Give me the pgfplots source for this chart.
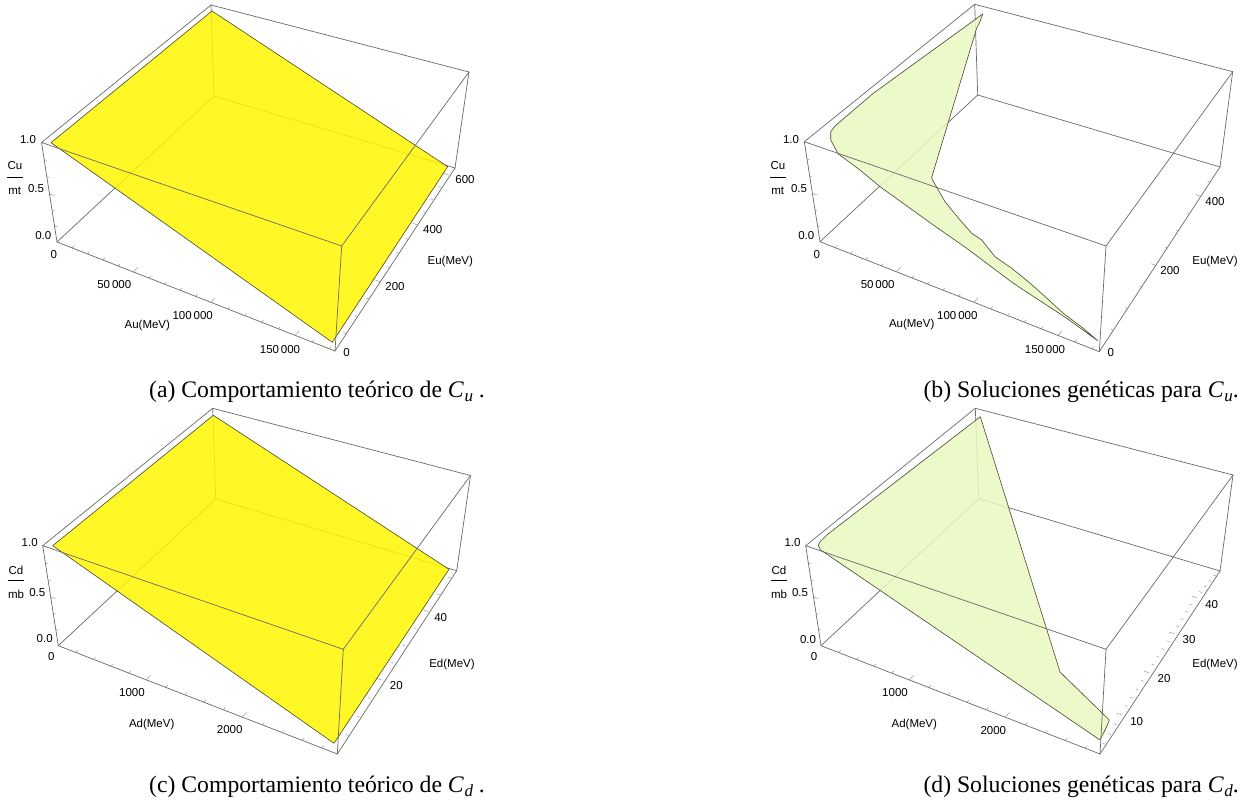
\documentclass[border=0pt]{standalone}
\usepackage{fontspec}
\setmainfont{Liberation Serif}
\newfontfamily\hv{Liberation Sans}
\usepackage{pgfplots}
\pgfplotsset{compat=1.18}
\definecolor{ysurf}{RGB}{255,247,0}
\definecolor{gsurf}{RGB}{233,248,190}
\definecolor{boxgray}{RGB}{105,105,105}
\definecolor{tickgray}{RGB}{135,135,135}
\definecolor{surfedge}{RGB}{70,70,50}
\pgfplotsset{
  panel/.style={hide axis, scale only axis, clip=false, y dir=reverse},
  boxline/.style={boxgray, line width=0.7pt, no markers, line cap=round, forget plot},
  surfY/.style={fill=ysurf, fill opacity=0.85, draw=surfedge, draw opacity=1, line width=0.6pt, no markers, forget plot, line join=round},
  surfG/.style={fill=gsurf, fill opacity=0.85, draw=surfedge, draw opacity=1, line width=0.6pt, no markers, forget plot, line join=round},
}
\newcommand{\edge}[2]{\addplot[boxline] coordinates {(#1) (#2)};}
% tick segment: x0 y0 x1 y1 intervals dx dy scale-of-last
\newcommand{\ticks}[8]{%
  \foreach \i in {1,...,#5}{%
    \pgfmathsetmacro\tx{#1+(#3-#1)*\i/#5}%
    \pgfmathsetmacro\ty{#2+(#4-#2)*\i/#5}%
    \pgfmathsetmacro\ts{ifthenelse(\i==#5,#8,0.5)}%
    \pgfmathsetmacro\ex{\tx+(#6)*\ts}%
    \pgfmathsetmacro\ey{\ty+(#7)*\ts}%
    \edef\temp{\noexpand\draw[tickgray,line width=0.4pt] (axis cs:\tx,\ty) -- (axis cs:\ex,\ey);}%
    \temp
  }%
}
\newcommand{\tl}[3]{\node[font=\hv\fontsize{11.5}{13}\selectfont,inner sep=0pt,anchor=center] at (axis cs:#1,#2) {#3};}
\newcommand{\Cs}[1]{\textit{C}\kern0.5pt\raisebox{-0.35ex}{\fontsize{17}{18}\selectfont\textit{#1}}}
\newcommand{\capt}[3]{\node[font=\fontsize{23.7}{26}\selectfont,inner sep=0pt,anchor=base west] at (axis cs:#1,#2) {#3};}
\begin{document}
\begin{tikzpicture}[x=1pt,y=1pt]
\useasboundingbox (0,0) rectangle (1245,802);
% ---------- (a)
\begin{axis}[panel, at={(0pt,401pt)}, anchor=south west, width=622pt, height=401pt, xmin=0, xmax=622, ymin=0, ymax=401]
\edge{211,5}{214,96}\edge{214,96}{57,242}\edge{214,96}{455,168}
\addplot[surfY] coordinates {(51,142.7) (212,11) (447.7,166.7) (332.3,342.3)} -- cycle;
\edge{41.5,142.5}{211,5}\edge{211,5}{469,72}\edge{469,72}{455,168}\edge{469,72}{341.7,246}
\edge{341.7,246}{41.5,142.5}\edge{341.7,246}{335,351}\edge{57,242}{335,351}\edge{335,351}{455,168}\edge{57,242}{41.5,142.5}
\ticks{57}{242}{133.5}{272}{5}{4}{-4.5}{1}
\ticks{133.5}{272}{211}{302.5}{5}{4}{-4.5}{1}
\ticks{211}{302.5}{295}{335.5}{5}{4}{-4.5}{1}
\ticks{295}{335.5}{329}{349}{2}{4}{-4.5}{0.5}
\ticks{335}{351}{380}{281.7}{4}{-5.5}{-2}{1}
\ticks{380}{281.7}{417.7}{225}{4}{-5.5}{-2}{1}
\ticks{417.7}{225}{449}{175}{4}{-5.5}{-2}{1}
\ticks{57}{242}{49.4}{194}{3}{5}{1.5}{1}
\ticks{49.4}{194}{41.5}{142.5}{3}{5}{1.5}{1}
\tl{28}{140}{1.0}\tl{36}{189}{0.5}\tl{43.3}{235.3}{0.0}
\tl{15}{166}{Cu}\tl{14.7}{191}{mt}
\addplot[black,line width=0.6pt,no markers,forget plot] coordinates {(7.3,177) (23.3,177)};
\tl{53.7}{255}{0}\tl{114.3}{284.7}{50\,000}\tl{192.7}{315.3}{100\,000}\tl{280}{349.7}{150\,000}
\tl{147.3}{325.3}{Au(MeV)}
\tl{346.5}{352.3}{0}\tl{395}{286.7}{200}\tl{432.7}{229.3}{400}\tl{465}{179.3}{600}
\tl{450.3}{261.3}{Eu(MeV)}
\capt{149}{397.3}{(a) Comportamiento teórico de \Cs{u} .}
\end{axis}
% ---------- (b)
\begin{axis}[panel, at={(622pt,401pt)}, anchor=south west, width=623pt, height=401pt, xmin=622, xmax=1245, ymin=0, ymax=401]
\edge{974.7,4.3}{977.7,95}\edge{977.7,95}{820,241.7}\edge{977.7,95}{1220,167}
\addplot[surfG] coordinates {(982.7,14) (980,21.7) (976.7,28) (931.7,177.3) (932,179) (938.3,190) (945,201.7) (960,220) (971.7,233.3) (981.7,240) (995,256.7) (1011.7,268.3) (1028.3,281.7) (1043.3,295) (1063.3,313.3) (1083.3,328.3) (1097.7,340.7) (1066.7,318.3) (1013.3,283.3) (966.7,248.3) (933.3,225) (880,186.7) (860,170) (838.3,154) (830.7,140) (830.7,131.7) (835,126) (873.3,93.3)} -- cycle;
\edge{804.3,141.7}{974.7,4.3}\edge{974.7,4.3}{1232.7,71.7}\edge{1232.7,71.7}{1220,167}\edge{1232.7,71.7}{1106,246}
\edge{1106,246}{804.3,141.7}\edge{1106,246}{1099.3,351.7}\edge{820,241.7}{1099.3,351.7}\edge{1099.3,351.7}{1220,167}\edge{820,241.7}{804.3,141.7}
\ticks{820}{241.7}{896.5}{271.7}{5}{4}{-4.5}{1}
\ticks{896.5}{271.7}{974}{302.2}{5}{4}{-4.5}{1}
\ticks{974}{302.2}{1058}{335.2}{5}{4}{-4.5}{1}
\ticks{1058}{335.2}{1092}{348.7}{2}{4}{-4.5}{0.5}
\ticks{1099.3}{351.7}{1156.7}{265.7}{4}{-5.5}{-2}{1}
\ticks{1156.7}{265.7}{1201}{196.5}{4}{-5.5}{-2}{1}
\ticks{1201}{196.5}{1210}{182}{1}{-5.5}{-2}{0.5}
\ticks{820}{241.7}{812.2}{193.5}{3}{5}{1.5}{1}
\ticks{812.2}{193.5}{804.3}{141.7}{3}{5}{1.5}{1}
\tl{791}{140}{1.0}\tl{799}{189}{0.5}\tl{806.3}{235.5}{0.0}
\tl{778}{166}{Cu}\tl{777.7}{191}{mt}
\addplot[black,line width=0.6pt,no markers,forget plot] coordinates {(770.3,177) (786.3,177)};
\tl{816.7}{254.3}{0}\tl{877.7}{284.3}{50\,000}\tl{957.3}{315.7}{100\,000}\tl{1045}{349.5}{150\,000}
\tl{911.7}{324.3}{Au(MeV)}
\tl{1110.7}{352.7}{0}\tl{1170}{270.7}{200}\tl{1215}{201.7}{400}
\tl{1215}{261.3}{Eu(MeV)}
\capt{923.3}{397.3}{(b) Soluciones genéticas para \Cs{u}.}
\end{axis}
% ---------- (c)
\begin{axis}[panel, at={(0pt,0pt)}, anchor=south west, width=622pt, height=401pt, xmin=0, xmax=622, ymin=401, ymax=802]
\edge{212.7,408.3}{215.7,499}\edge{215.7,499}{58.3,645.7}\edge{215.7,499}{456.7,570.7}
\addplot[surfY] coordinates {(52.7,545.7) (213.3,415.3) (449,569.3) (334,743.3)} -- cycle;
\edge{42.7,545.7}{212.7,408.3}\edge{212.7,408.3}{470.5,475.5}\edge{470.5,475.5}{456.7,570.7}\edge{470.5,475.5}{343.3,649.3}
\edge{343.3,649.3}{42.7,545.7}\edge{343.3,649.3}{337.3,754}\edge{58.3,645.7}{337.3,754}\edge{337.3,754}{456.7,570.7}\edge{58.3,645.7}{42.7,545.7}
\ticks{58.3}{645.7}{146.5}{680}{5}{4}{-4.5}{1}
\ticks{146.5}{680}{242.5}{717}{5}{4}{-4.5}{1}
\ticks{242.5}{717}{322}{748}{4}{4}{-4.5}{0.5}
\ticks{337.3}{754}{381.7}{680}{4}{-5.5}{-2}{1}
\ticks{381.7}{680}{428.3}{611.7}{4}{-5.5}{-2}{1}
\ticks{428.3}{611.7}{451}{578}{2}{-5.5}{-2}{0.5}
\ticks{58.3}{645.7}{50.5}{597}{3}{5}{1.5}{1}
\ticks{50.5}{597}{42.7}{545.7}{3}{5}{1.5}{1}
\tl{29.7}{543}{1.0}\tl{37.3}{592.7}{0.5}\tl{44.7}{638.7}{0.0}
\tl{16}{570}{Cd}\tl{16}{594.3}{mb}
\addplot[black,line width=0.6pt,no markers,forget plot] coordinates {(7.7,580.3) (24.3,580.3)};
\tl{51.3}{656.3}{0}\tl{132}{692.3}{1000}\tl{229.7}{730}{2000}
\tl{151.7}{725}{Ad(MeV)}
\tl{396.3}{686}{20}\tl{440.7}{617.3}{40}
\tl{452}{664.7}{Ed(MeV)}
\capt{149}{792.7}{(c) Comportamiento teórico de \Cs{d} .}
\end{axis}
% ---------- (d)
\begin{axis}[panel, at={(622pt,0pt)}, anchor=south west, width=623pt, height=401pt, xmin=622, xmax=1245, ymin=401, ymax=802]
\edge{975.3,408.3}{978.7,498.7}\edge{978.7,498.7}{821,645.7}\edge{978.7,498.7}{1220,571}
\addplot[surfG] coordinates {(980.3,416.7) (1060,672) (1109.3,720) (1106.7,726.7) (1100,740) (820.7,550) (818.3,545.7) (820,541.7) (826.7,535)} -- cycle;
\edge{805.7,545.7}{975.3,408.3}\edge{975.3,408.3}{1233,475}\edge{1233,475}{1220,571}\edge{1233,475}{1106,649.3}
\edge{1106,649.3}{805.7,545.7}\edge{1106,649.3}{1100,754}\edge{821,645.7}{1100,754}\edge{1100,754}{1220,571}\edge{821,645.7}{805.7,545.7}
\ticks{821}{645.7}{909.5}{680}{5}{4}{-4.5}{1}
\ticks{909.5}{680}{1005.5}{717}{5}{4}{-4.5}{1}
\ticks{1005.5}{717}{1085}{748}{4}{4}{-4.5}{0.5}
\ticks{1100}{754}{1122}{715}{4}{-5.5}{-2}{1}
\ticks{1122}{715}{1149.4}{673}{5}{-5.5}{-2}{1}
\ticks{1149.4}{673}{1174.4}{634}{5}{-5.5}{-2}{1}
\ticks{1174.4}{634}{1197}{598}{5}{-5.5}{-2}{1}
\ticks{1197}{598}{1216}{576}{4}{-5.5}{-2}{0.5}
\ticks{821}{645.7}{813.5}{597}{3}{5}{1.5}{1}
\ticks{813.5}{597}{805.7}{545.7}{3}{5}{1.5}{1}
\tl{792.5}{543}{1.0}\tl{800}{592.7}{0.5}\tl{808}{639.5}{0.0}
\tl{779}{570}{Cd}\tl{779}{594.3}{mb}
\addplot[black,line width=0.6pt,no markers,forget plot] coordinates {(770.7,580.3) (787.3,580.3)};
\tl{814}{656.3}{0}\tl{895}{692.3}{1000}\tl{993.3}{730.3}{2000}
\tl{914.3}{725}{Ad(MeV)}
\tl{1136.7}{721.3}{10}\tl{1164}{679}{20}\tl{1189}{640}{30}\tl{1211.7}{604.3}{40}
\tl{1215}{664.7}{Ed(MeV)}
\capt{923.3}{792.7}{(d) Soluciones genéticas para \Cs{d}.}
\end{axis}
\end{tikzpicture}
\end{document}
